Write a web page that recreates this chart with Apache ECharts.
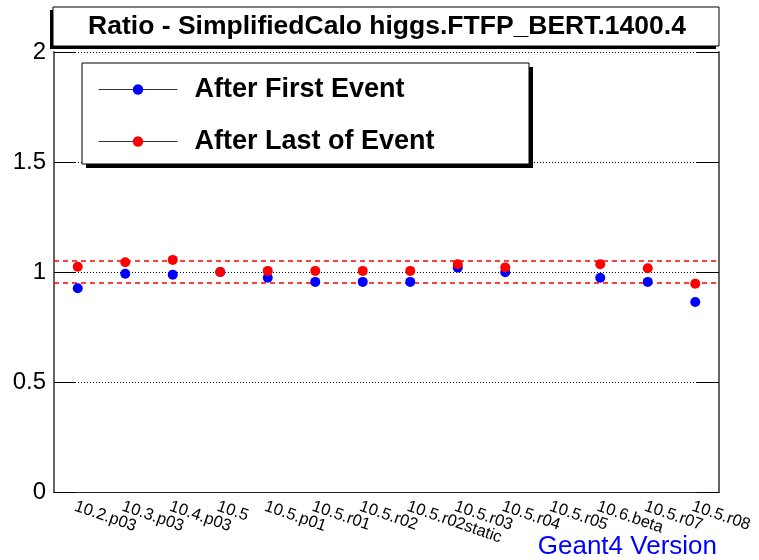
<!DOCTYPE html>
<html>
<head>
<meta charset="utf-8">
<script src="https://cdn.jsdelivr.net/npm/echarts@6/dist/echarts.min.js"></script>
<style>
    html, body { margin: 0; padding: 0; background: #fff; }
    #main { width: 759px; height: 560px; }
</style>
</head>
<body>
<div id="main"></div>
<script>
//== chart data
var versions = ['10.2.p03', '10.3.p03', '10.4.p03', '10.5', '10.5.p01', '10.5.r01', '10.5.r02',
    '10.5.r02static', '10.5.r03', '10.5.r04', '10.5.r05', '10.6.beta', '10.5.r07', '10.5.r08'];
var firstEvent = [0.926, 0.992, 0.988, 1.0, 0.974, 0.955, 0.955, 0.955, 1.02, 0.999, '-', 0.974, 0.955, 0.864];
var lastEvent = [1.024, 1.044, 1.055, 1.0, 1.005, 1.005, 1.005, 1.005, 1.035, 1.021, '-', 1.035, 1.017, 0.947];
var bandLines = [1.05, 0.95];
var yTicks = [0, 0.5, 1, 1.5, 2];

var font = '"Liberation Sans", Arial, Helvetica, sans-serif';

var myChart = echarts.init(document.getElementById('main'), null, {renderer: 'canvas'});

// boxes with ROOT style shadows
var boxes = [
    // title box, shadow lower-left
    {type: 'rect', shape: {x: 50, y: 10, width: 666, height: 39}, style: {fill: '#000'}, z: 5},
    {type: 'rect', shape: {x: 53, y: 7, width: 666, height: 39}, style: {fill: '#fff', stroke: '#000', lineWidth: 1}, z: 5},
    {type: 'text', x: 387, y: 27, z: 6, style: {
        text: 'Ratio - SimplifiedCalo higgs.FTFP_BERT.1400.4', font: 'bold 26.5px ' + font,
        fill: '#000', align: 'center', verticalAlign: 'middle'}},
    // legend box, shadow lower-right
    {type: 'rect', shape: {x: 86, y: 67, width: 447, height: 101}, style: {fill: '#000'}, z: 5},
    {type: 'rect', shape: {x: 82, y: 63, width: 447, height: 101}, style: {fill: '#fff', stroke: '#000', lineWidth: 1}, z: 5},
    {type: 'text', x: 717, y: 547, z: 6, style: {
        text: 'Geant4 Version', font: '26px ' + font, fill: '#0000ff', align: 'right', verticalAlign: 'middle'}}
];

// horizontal dashed line across the whole plot at a y value
var renderBand = function (params, api) {
    var cs = params.coordSys;
    var y = Math.round(api.coord([0, api.value(1)])[1]);
    return {
        type: 'line',
        shape: {x1: cs.x, y1: y, x2: cs.x + cs.width, y2: y},
        style: {stroke: '#ff0000', lineWidth: 1.6, lineDash: [5, 4], fill: null}
    };
};

var option = {
    animation: false,
    backgroundColor: '#fff',
    graphic: boxes,
    grid: {left: 54, right: 40, top: 52, bottom: 68},
    legend: {
        orient: 'vertical',
        left: 93,
        top: 71,
        z: 10,
        itemWidth: 79,
        itemHeight: 13,
        itemGap: 25,
        lineStyle: {color: '#333', width: 1, opacity: 1},
        textStyle: {fontFamily: font, fontSize: 27, fontWeight: 'bold', color: '#000', padding: [0, 0, 0, 12]},
        data: ['After First Event', 'After Last of Event']
    },
    xAxis: [{
        type: 'category',
        data: versions,
        position: 'bottom',
        axisLine: {lineStyle: {color: '#222', width: 1}},
        axisTick: {inside: true, length: 11, lineStyle: {color: '#222'}},
        axisLabel: {
            interval: 0, rotate: -19, margin: 6, align: 'left', verticalAlign: 'top',
            fontFamily: font, fontSize: 16.5, color: '#000'
        },
        splitLine: {show: false}
    }, {
        type: 'category',
        data: versions,
        position: 'top',
        axisLine: {lineStyle: {color: '#222', width: 1}},
        axisTick: {inside: true, length: 11, lineStyle: {color: '#222'}},
        axisLabel: {show: false}
    }],
    yAxis: [{
        type: 'value',
        min: yTicks[0],
        max: yTicks[yTicks.length - 1],
        interval: 0.5,
        position: 'left',
        axisLine: {show: true, lineStyle: {color: '#666', width: 2}},
        axisTick: {show: true, inside: true, length: 22, lineStyle: {color: '#000'}},
        axisLabel: {margin: 8, fontFamily: font, fontSize: 24, color: '#000'},
        splitLine: {show: true, lineStyle: {color: '#000', width: 1, type: [1, 2]}}
    }, {
        type: 'value',
        min: yTicks[0],
        max: yTicks[yTicks.length - 1],
        interval: 0.5,
        position: 'right',
        axisLine: {show: true, lineStyle: {color: '#666', width: 2}},
        axisTick: {show: true, inside: true, length: 22, lineStyle: {color: '#000'}},
        axisLabel: {show: false},
        splitLine: {show: false}
    }],
    series: [{
        // reference band, +-5%
        name: 'band',
        type: 'custom',
        renderItem: renderBand,
        data: bandLines.map(function (v) { return [0, v]; }),
        encode: {x: 0, y: 1},
        silent: true,
        clip: false,
        z: 2
    }, {
        name: 'After First Event',
        type: 'line',
        data: firstEvent,
        symbol: 'circle',
        symbolSize: 10,
        showAllSymbol: true,
        itemStyle: {color: '#0000ff'},
        lineStyle: {width: 0},
        z: 3
    }, {
        name: 'After Last of Event',
        type: 'line',
        data: lastEvent,
        symbol: 'circle',
        symbolSize: 10,
        showAllSymbol: true,
        itemStyle: {color: '#ff0000'},
        lineStyle: {width: 0},
        z: 3
    }]
};

myChart.setOption(option);
</script>
</body>
</html>
